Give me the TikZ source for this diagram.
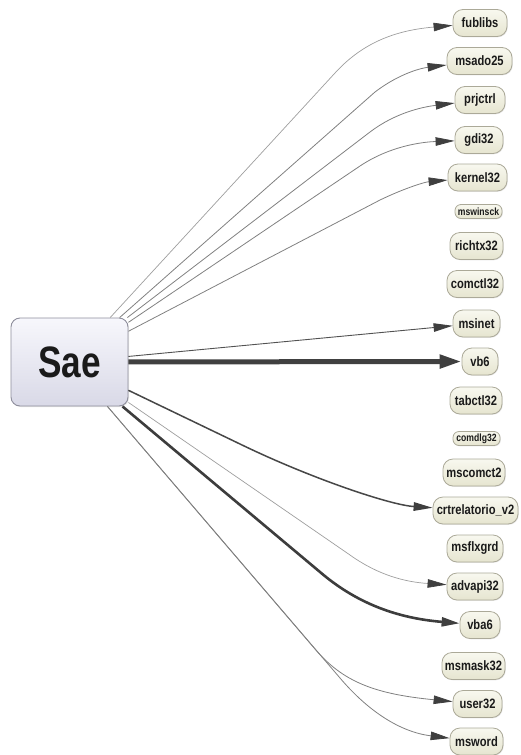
\documentclass[tikz,border=0pt]{standalone}
\usepackage{fontspec}
\setmainfont{Liberation Sans}
\newfontfamily\labelfont{Liberation Sans}[FakeStretch=0.82]
\newfontfamily\saefont{Liberation Sans}[FakeStretch=0.8]
\usetikzlibrary{arrows.meta,shadows}

\definecolor{nodefillA}{HTML}{F8F8EF}
\definecolor{nodefillB}{HTML}{E6E5D0}
\definecolor{nodeline}{HTML}{ABA998}
\definecolor{saefillA}{HTML}{F7F7FC}
\definecolor{saefillB}{HTML}{D9D9E7}
\definecolor{saeline}{HTML}{8E8E9C}
\definecolor{tipgray}{HTML}{3F3F3F}
\definecolor{textdark}{HTML}{1A1A1A}

\tikzset{
  libnode/.style={draw=nodeline, line width=0.8pt, rounded corners=10pt,
    top color=nodefillA, bottom color=nodefillB, minimum height=27pt,
    inner sep=0pt, text=textdark,
    font=\labelfont\bfseries\fontsize{13.6}{15}\selectfont,
    drop shadow={shadow xshift=0.8pt, shadow yshift=-0.8pt, opacity=0.18}},
  smallnode/.style={libnode, minimum height=14pt, rounded corners=6pt,
    font=\labelfont\bfseries\fontsize{10.5}{12}\selectfont},
  saenode/.style={draw=saeline, line width=0.9pt, rounded corners=9pt,
    top color=saefillA, bottom color=saefillB,
    minimum width=117pt, minimum height=88pt, inner sep=0pt, text=textdark,
    font=\saefont\bfseries\fontsize{44}{48}\selectfont,
    drop shadow={shadow xshift=1pt, shadow yshift=-1pt, opacity=0.18}},
  thintip/.style={-{Triangle[length=19pt,width=8.5pt,color=tipgray]}},
  faintedge/.style={thintip, draw=black!38, line width=0.7pt},
  greyedge/.style={thintip, draw=black!50, line width=0.8pt},
  darkedge/.style={thintip, draw=black!68, line width=0.9pt},
  mediumedge/.style={thintip, draw=black!72, line width=1.5pt},
  heavyedge/.style={-{Triangle[length=18pt,width=9pt,color=tipgray]}, draw=black!76, line width=2.6pt},
  boldedge/.style={-{Triangle[length=22pt,width=13pt,color=tipgray]}, draw=black!75, line width=5pt}
}

\begin{document}
\begin{tikzpicture}[x=1pt, y=-1pt]
  \useasboundingbox (0,0) rectangle (521,755);

  % central module
  \node[saenode] (sae) at (69.5,362) {Sae};

  % referenced libraries
  \node[libnode, minimum width=54pt] (fublibs)  at (480,23)    {fublibs};
  \node[libnode, minimum width=65pt] (msado25)  at (479.5,61)  {msado25};
  \node[libnode, minimum width=50pt] (prjctrl)  at (480,100)   {prjctrl};
  \node[libnode, minimum width=48pt] (gdi32)    at (479,140)   {gdi32};
  \node[libnode, minimum width=59pt] (kernel32) at (477.5,177.5) {kernel32};
  \node[smallnode, minimum width=47pt] (mswinsck) at (478.5,211.5) {mswinsck};
  \node[libnode, minimum width=53pt] (richtx32) at (476.5,246) {richtx32};
  \node[libnode, minimum width=56pt] (comctl32) at (475,284)   {comctl32};
  \node[libnode, minimum width=47pt] (msinet)   at (476.5,323.5) {msinet};
  \node[libnode, minimum width=36pt] (vb6)      at (480,361.5) {vb6};
  \node[libnode, minimum width=52pt] (tabctl32) at (476,400.5) {tabctl32};
  \node[smallnode, minimum width=47pt] (comdlg32) at (476.5,438.5) {comdlg32};
  \node[libnode, minimum width=62pt] (mscomct2) at (474,472.5) {mscomct2};
  \node[libnode, minimum width=85pt] (crtrel)   at (475.5,510.5) {crtrelatorio\_v2};
  \node[libnode, minimum width=56pt] (msflxgrd) at (475,548.5) {msflxgrd};
  \node[libnode, minimum width=56pt] (advapi32) at (475,586.5) {advapi32};
  \node[libnode, minimum width=40pt] (vba6)     at (480,625)   {vba6};
  \node[libnode, minimum width=63pt] (msmask32) at (473.5,666) {msmask32};
  \node[libnode, minimum width=49pt] (user32)   at (477.5,704) {user32};
  \node[libnode, minimum width=53pt] (msword)   at (476.5,741.5) {msword};

  % dependencies: straight run from the module, then a bend into the target
  \draw[faintedge] (sae) -- (335,73)  .. controls (365,40)  and (400,30)  .. (fublibs);
  \draw[greyedge]  (sae) -- (375,92)  .. controls (400,73)  and (422,68)  .. (msado25);
  \draw[greyedge]  (sae) -- (370,132) .. controls (395,113) and (422,107) .. (prjctrl);
  \draw[greyedge]  (sae) -- (360,166) .. controls (390,146) and (422,142) .. (gdi32);
  \draw[greyedge]  (sae) -- (380,200) .. controls (405,188) and (425,182) .. (kernel32);
  \draw[darkedge]  (sae) -- (msinet);
  \draw[boldedge]  (sae) -- (vb6);
  \draw[mediumedge] (sae) -- (240,444) .. controls (310,478) and (390,505) .. (crtrel);
  \draw[faintedge] (sae) -- (350,555) .. controls (378,575) and (405,582) .. (advapi32);
  \draw[heavyedge] (sae) -- (320,572) .. controls (355,602) and (395,618) .. (vba6);
  \draw[greyedge]  (sae) -- (315,649) .. controls (343,682) and (375,694) .. (user32);
  \draw[greyedge]  (sae) -- (340,678) .. controls (368,711) and (400,732) .. (msword);
\end{tikzpicture}
\end{document}
